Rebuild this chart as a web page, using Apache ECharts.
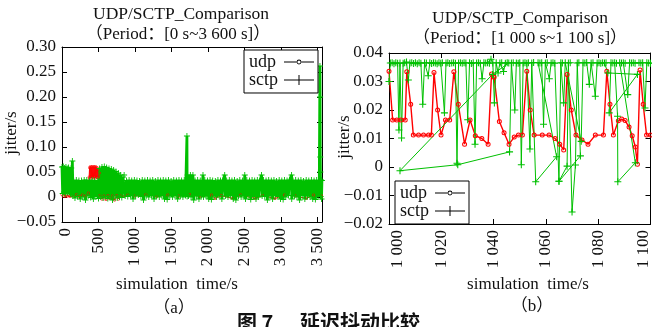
<!DOCTYPE html>
<html>
<head>
<meta charset="utf-8">
<script src="https://cdn.jsdelivr.net/npm/echarts@6/dist/echarts.min.js"></script>
<style>
  html, body { margin: 0; padding: 0; background: #fff; }
  #chart { width: 652px; height: 327px; }
</style>
</head>
<body>
<div id="chart"></div>
<script>
// Jitter samples as [simulation time (s), jitter (ms)], in trace order.

// (a) whole run, 0 s ~ 3 600 s
const udpFull = [
  [0,5],[15,2],[30,6],[45,1],[60,4],[75,2],[90,5],[110,1],[130,4],[160,2],[200,5],[240,1],
  [280,4],[320,2],[360,8],
  [372,40],[378,59],[384,38],[390,61],[396,41],[402,60],[408,38],[414,61],[420,40],[426,60],
  [432,39],[438,61],[444,41],[450,60],[456,38],[462,61],[468,40],[474,59],[480,39],[486,58],
  [492,40],[498,55],[504,42],[510,48],
  [520,3],[548,-4],[575,2],[602,-5],[630,3],[655,-3],[690,2],[720,-6],[750,3],[775,-4],
  [805,2],[845,1],[900,4],[1000,2],[1150,5],[1300,1],[1450,4],[1600,2],[1750,5],[1900,1],
  [2050,4],[2100,-3],[2180,3],[2340,-3],[2450,4],[2650,-3],[2750,3],[2920,-3],[3050,4],
  [3200,2],[3350,-3],[3450,4],[3560,2]
];
const sctpFull = [
  [0,60],[9,7],[18,61],[27,10],[36,58],[45,6],[54,60],[63,12],[72,57],[81,8],[90,59],[99,11],
  [108,55],[117,7],[126,58],[134,5],[142,72],[150,2],
  [160,33],[178,-2],[196,34],[214,1],[232,33],[250,-4],[268,33],[286,0],[304,34],[322,-6],
  [340,34],[358,2],[376,33],[394,-1],[412,34],[430,-4],[448,33],[466,1],[484,33],[500,-3],
  [516,57],[532,0],[548,60],[564,-2],[580,61],[596,1],[612,59],[628,-3],[644,57],[660,0],
  [676,56],[692,-6],[708,54],[724,2],[740,51],[756,-2],[772,48],[788,0],[804,44],[820,-1],
  [836,40],[852,44],[866,2],
  [884,33],[902,1],[920,34],[938,3],[956,33],[974,-4],[992,34],[1010,2],[1028,33],[1046,4],
  [1064,32],[1082,1],[1100,34],[1118,-6],[1136,33],[1154,2],[1172,34],[1190,0],[1208,33],
  [1226,3],[1244,34],[1262,-4],[1280,32],[1298,2],[1316,34],[1334,0],[1352,33],[1370,3],
  [1388,34],[1406,-4],[1424,33],[1442,-5],[1460,34],[1478,2],[1496,32],[1514,0],[1532,34],
  [1550,3],[1568,33],[1586,-4],[1604,34],[1622,2],[1640,33],[1658,0],[1676,34],[1694,3],
  [1713,122],[1716,1],[1722,44],[1734,2],[1752,33],[1760,44],[1770,0],[1788,34],[1795,44],
  [1806,-6],[1824,33],[1842,2],[1860,34],[1878,-4],[1896,33],[1914,3],[1933,44],[1940,0],
  [1958,34],[1976,2],[1994,33],[2012,-4],[2030,34],[2048,-5],[2066,33],[2084,2],[2102,32],
  [2120,0],[2138,34],[2156,3],[2174,33],[2192,-4],[2210,34],[2231,44],[2240,2],[2258,33],
  [2276,0],[2294,34],[2312,3],[2330,33],[2348,-4],[2366,34],[2384,-6],[2402,32],[2420,2],
  [2438,34],[2456,0],[2474,33],[2492,3],[2506,44],[2516,-4],[2534,34],[2552,2],[2570,33],
  [2588,-5],[2606,34],[2624,1],[2642,33],[2660,-4],[2678,34],[2696,0],[2714,32],[2736,44],
  [2744,2],[2762,34],[2780,1],[2798,33],[2816,-6],[2834,34],[2852,2],[2870,33],[2888,-4],
  [2906,34],[2924,3],[2942,32],[2960,1],[2978,34],[2996,-4],[3014,33],[3032,-5],[3050,34],
  [3068,0],[3086,33],[3104,3],[3122,34],[3148,44],[3150,-4],[3168,33],[3186,2],[3204,34],
  [3222,0],[3240,33],[3258,-6],[3276,34],[3294,3],[3312,32],[3330,-4],[3348,34],[3366,2],
  [3384,33],[3402,0],[3420,34],[3438,-4],[3456,33],[3474,-5],[3492,34],[3510,1],[3528,33],
  [3537,262],[3539,200],[3541,80],[3543,50],[3546,1],[3552,34],[3558,-4],[3564,33]
];

// (b) close-up, 1 000 s ~ 1 100 s
const udpWindow = [
  [1000.0,33.6],[1001.4,16.5],[1003.0,16.5],[1004.6,16.5],[1006.2,16.5],[1006.8,33.4],
  [1008.3,22.0],[1009.3,11.2],[1011.3,11.2],[1013.2,11.2],[1015.1,11.2],[1016.2,11.2],
  [1017.2,33.2],[1018.6,20.0],[1019.9,11.2],[1021.6,16.5],[1023.2,16.5],[1024.8,33.4],
  [1026.5,22.0],[1028.9,8.0],[1031.0,16.5],[1033.0,11.0],[1035.5,10.0],[1037.9,8.0],
  [1039.2,32.6],[1040.2,31.5],[1042.2,16.0],[1044.0,12.0],[1045.9,8.0],[1047.9,10.5],
  [1049.5,11.2],[1051.0,11.2],[1052.7,33.6],[1054.0,20.0],[1055.5,11.2],[1058.6,11.2],
  [1061.2,11.2],[1063.5,10.0],[1065.3,8.0],[1066.8,6.0],[1068.1,32.5],[1069.7,20.0],
  [1071.5,11.2],[1073.8,9.5],[1076.1,8.0],[1078.9,11.2],[1082.0,11.2],[1083.3,33.6],
  [1084.5,22.0],[1085.8,11.2],[1087.7,16.2],[1089.0,16.8],[1090.3,16.3],[1091.8,14.0],
  [1093.0,11.0],[1094.2,7.0],[1095.0,1.0],[1096.0,34.0],[1097.2,22.0],[1098.5,11.2],
  [1100.0,11.2]
];
const sctpWindow = [
  [1000.0,30.0],[1000.5,36.5],[1001.2,36.6],[1001.9,36.2],[1002.6,36.6],[1003.3,36.4],
  [1003.8,13.0],[1004.2,36.5],[1004.8,10.2],[1005.4,36.4],[1006.0,36.6],[1006.7,36.8],
  [1007.4,30.5],[1008.0,36.5],[1008.7,36.6],[1009.4,36.3],[1010.1,36.6],[1010.8,36.2],
  [1011.5,36.6],[1012.2,36.4],[1012.9,22.0],[1013.6,36.6],[1014.3,36.5],[1015.0,32.0],
  [1015.6,36.6],[1016.3,36.3],[1017.0,36.6],[1017.7,36.5],[1018.4,36.2],[1019.1,36.6],
  [1019.8,36.4],[1020.4,36.6],[1021.2,19.0],[1021.8,36.5],[1022.5,36.6],[1023.2,36.3],
  [1024.0,36.5],[1024.7,36.6],[1025.4,36.4],[1026.0,1.3],[1026.6,36.5],[1027.3,36.6],
  [1028.0,36.4],[1028.7,36.6],[1029.4,36.5],[1030.1,16.6],[1030.8,36.6],[1031.5,36.3],
  [1032.2,36.6],[1032.9,8.0],[1033.5,36.5],[1034.2,36.6],[1034.9,36.4],[1035.6,31.0],
  [1036.3,36.6],[1037.0,36.5],[1037.7,36.6],[1038.4,36.4],[1039.0,37.8],[1039.7,36.5],
  [1040.3,22.5],[1041.0,36.6],[1041.7,33.0],[1042.4,36.5],[1043.1,36.6],[1043.8,33.5],
  [1044.5,36.4],[1045.2,36.6],[1045.8,36.5],
  [1039.6,32.5],[1004.2,-1.3],[1026.3,0.8],[1046.1,5.3],
  [1046.8,36.5],[1047.5,36.6],[1048.1,20.0],[1048.7,36.5],[1049.4,36.4],[1050.0,36.6],
  [1050.6,0.8],[1051.3,36.5],[1052.0,36.6],[1052.7,36.4],[1053.3,36.6],[1053.9,6.3],
  [1054.6,36.5],[1055.3,36.7],
  [1056.1,-5.2],[1064.1,3.6],[1057.0,36.6],[1057.7,36.5],[1058.4,36.6],[1059.1,15.0],
  [1059.8,36.5],[1060.5,36.6],[1061.3,31.0],[1062.0,36.5],[1062.7,36.6],[1063.4,36.4],
  [1065.0,-5.0],[1068.1,0.3],[1068.6,36.5],[1069.3,36.6],[1070.0,-15.8],[1071.3,0.7],
  [1072.0,36.5],[1072.6,36.6],[1073.2,3.9],[1065.0,-5.0],[1065.7,36.6],[1066.3,36.5],
  [1066.8,22.5],[1067.4,36.6],[1073.5,9.0],
  [1074.2,36.6],[1074.9,36.5],[1075.6,36.7],[1076.6,29.0],[1077.3,36.5],[1078.0,36.6],
  [1078.9,24.8],[1079.6,36.5],[1080.3,36.6],[1081.0,36.4],[1081.7,36.6],[1082.4,36.5],
  [1083.0,36.6],[1083.7,33.0],[1095.0,32.5],[1084.2,19.0],[1084.9,36.6],[1085.6,36.5],
  [1086.3,36.6],[1087.0,36.4],[1087.4,17.8],[1087.5,-5.2],[1094.2,1.5],[1088.2,36.6],
  [1088.9,36.5],[1089.6,36.6],[1090.3,36.4],[1091.3,25.4],[1092.0,36.6],[1092.7,36.5],
  [1093.4,36.6],[1094.1,36.4],[1095.6,36.6],[1096.3,36.5],[1097.0,36.6],[1097.9,20.7],
  [1098.6,36.6],[1099.3,36.5],[1100.0,36.4]
];

const seriesNames = ['udp', 'sctp'];

const toSeconds = pts => pts.map(([t, ms]) => [t, ms / 1000]);

const SERIF = '"Liberation Serif", "DejaVu Serif", "Noto Sans CJK SC", serif';
const INK = '#111';
const RED = '#ff0000';
const GREEN = '#00c000';
// gnuplot-like point types: thin ring and plus
const RING = 'path://M5,0A5,5 0 1,1 5,10A5,5 0 1,1 5,0Z M5,2A3,3 0 1,0 5,8A3,3 0 1,0 5,2Z';
const PLUS = 'path://M0,4.25H10V5.75H0Z M4.25,0H5.75V10H4.25Z';
const RING_KEY = 'path://M0,4.5H12.6V5.5H0Z M17.4,4.5H30V5.5H17.4Z M15,2.6A2.4,2.4 0 1,1 15,7.4A2.4,2.4 0 1,1 15,2.6Z M15,3.4A1.6,1.6 0 1,0 15,6.6A1.6,1.6 0 1,0 15,3.4Z';
const PLUS_KEY = 'path://M0,4.5H30V5.5H0Z M14.5,0H15.5V10H14.5Z';

const fmtSeconds = v => {
  const s = String(Math.round(v));
  return s.length > 3 ? s.slice(0, -3) + ' ' + s.slice(-3) : s;
};
const fmtJitter = v => {
  if (Math.abs(v) < 1e-9) return '0';
  return (v < 0 ? '\u2212' : '') + Math.abs(v).toFixed(2);
};

const axisLine = { show: true, onZero: false, lineStyle: { color: '#000', width: 1 } };
const axisTick = { show: true, inside: true, length: 5, lineStyle: { color: '#000', width: 1 } };
const labelText = { color: INK, fontFamily: SERIF, fontSize: 17 };

// end labels of the rotated time axis are nudged inwards (padding shifts them sideways)
function xAxes(grid, min, max, step, firstNudge, lastNudge) {
  const base = { type: 'value', gridIndex: grid, min, max, interval: step,
    axisLine, axisTick, splitLine: { show: false } };
  const tick = v => Math.abs(v / step - Math.round(v / step)) < 1e-6;
  return [
    Object.assign({}, base, { position: 'bottom', axisLabel: Object.assign({
      rotate: 90, margin: 6,
      formatter: v => {
        if (!tick(v)) return '';
        if (v === min) return '{first|' + fmtSeconds(v) + '}';
        if (v === max) return '{last|' + fmtSeconds(v) + '}';
        return fmtSeconds(v);
      },
      rich: {
        first: Object.assign({ padding: [firstNudge * 2, 0, 0, 0] }, labelText),
        last: Object.assign({ padding: [0, 0, lastNudge * 2, 0] }, labelText)
      }
    }, labelText) }),
    Object.assign({}, base, { position: 'top', axisLabel: { show: false } })
  ];
}
function yAxes(grid, min, max, step) {
  const base = { type: 'value', gridIndex: grid, min, max, interval: step,
    axisLine, axisTick, splitLine: { show: false } };
  return [
    Object.assign({}, base, { position: 'left', axisLabel: Object.assign({
      margin: 6, formatter: fmtJitter }, labelText) }),
    Object.assign({}, base, { position: 'right', axisLabel: { show: false } })
  ];
}

function trace(name, data, xi, yi, color, symbol, size, width) {
  return {
    name, type: 'line', xAxisIndex: xi, yAxisIndex: yi, data: toSeconds(data),
    symbol, symbolSize: size, symbolKeepAspect: true,
    lineStyle: { color, width }, itemStyle: { color },
    emphasis: { disabled: true }, silent: true, animation: false
  };
}

function legendBox(left, top) {
  return {
    left, top, orient: 'vertical', align: 'right', selectedMode: false,
    itemWidth: 30, itemHeight: 10, itemGap: 0,
    padding: [3, 4, 4, 5], borderColor: '#000', borderWidth: 1, borderRadius: 0,
    backgroundColor: '#fff',
    itemStyle: { color: '#000', borderWidth: 0 },
    formatter: name => '{n|' + name + '}',
    textStyle: { color: INK, fontFamily: SERIF, fontSize: 18,
      rich: { n: { width: 30, align: 'left', fontFamily: SERIF, fontSize: 18, lineHeight: 15, color: INK } } },
    data: [
      { name: seriesNames[0], icon: RING_KEY },
      { name: seriesNames[1], icon: PLUS_KEY }
    ]
  };
}

function label(x, y, text, extra) {
  return Object.assign({
    type: 'text', x, y, silent: true,
    style: Object.assign({ text, fill: INK, font: '17px ' + SERIF,
      align: 'center', verticalAlign: 'middle', textAlign: 'center', textVerticalAlign: 'middle' },
      extra && extra.style)
  }, extra && extra.el);
}

const chart = echarts.init(document.getElementById('chart'), null, { renderer: 'canvas' });
chart.setOption({
  backgroundColor: '#fff',
  animation: false,
  grid: [
    { left: 62, top: 47, width: 260, height: 175 },
    { left: 389, top: 53, width: 262, height: 171 }
  ],
  xAxis: [].concat(xAxes(0, 0, 3565, 500, 4, 0), xAxes(1, 1000, 1100, 20, 9, 7)),
  yAxis: [].concat(yAxes(0, -0.05, 0.30, 0.05), yAxes(1, -0.02, 0.04, 0.01)),
  legend: [legendBox(244, 50), legendBox(395, 181)],
  series: [
    trace(seriesNames[0], udpFull, 0, 0, RED, RING, 3, 1),
    trace(seriesNames[1], sctpFull, 0, 0, GREEN, PLUS, 6, 2.8),
    trace(seriesNames[0], udpWindow, 2, 2, RED, RING, 5, 1.4),
    trace(seriesNames[1], sctpWindow, 2, 2, GREEN, PLUS, 7, 1)
  ],
  graphic: { elements: [
    label(181, 14, 'UDP/SCTP_Comparison', { style: { font: '17.5px ' + SERIF } }),
    label(178, 35, '（Period：[0 s~3 600 s]）'),
    label(520, 18, 'UDP/SCTP_Comparison', { style: { font: '17.5px ' + SERIF } }),
    label(520, 39, '（Period：[1 000 s~1 100 s]）'),
    label(12, 133, 'jitter/s', { el: { rotation: Math.PI / 2 } }),
    label(345, 137, 'jitter/s', { el: { rotation: Math.PI / 2 } }),
    label(177, 285, 'simulation  time/s'),
    label(528, 285, 'simulation  time/s'),
    label(174, 309, '（a）'),
    label(532, 307, '（b）'),
    label(237, 322, '图 7', { style: { align: 'left', textAlign: 'left',
      font: 'bold 20px "Noto Sans CJK SC", sans-serif' } }),
    label(300, 322, '延迟抖动比较', { style: { align: 'left', textAlign: 'left',
      font: 'bold 20px "Noto Sans CJK SC", sans-serif' } })
  ] }
});
</script>
</body>
</html>
